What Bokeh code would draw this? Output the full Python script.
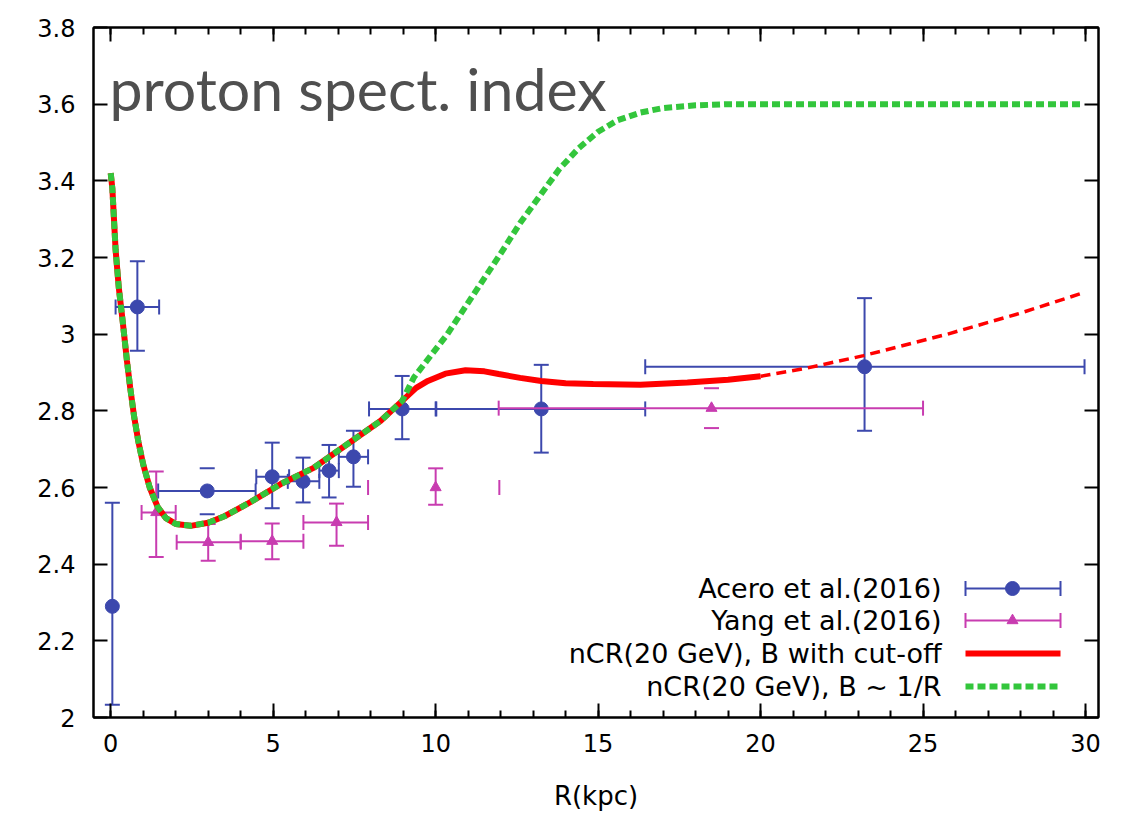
import math
from bokeh.plotting import figure
from bokeh.models import Range1d, FixedTicker, LinearAxis, Label
from bokeh.embed import file_html
from bokeh.resources import INLINE

# ---------------- data ----------------
# Acero et al. (2016)
acero_r = [0.05, 0.82, 2.97, 4.97, 5.92, 6.72, 7.47, 8.97, 13.25, 23.2]
acero_idx = [2.29, 3.071, 2.591, 2.628, 2.616, 2.644, 2.68, 2.805, 2.805, 2.915]
acero_r_lo = [0.05, 0.15, 1.46, 4.48, 5.45, 6.42, 7.02, 7.95, 10.02, 16.45]
acero_r_hi = [0.05, 1.49, 4.46, 5.49, 6.42, 7.02, 7.92, 10.0, 16.45, 29.97]
acero_idx_lo = [2.033, 2.957, 2.53, 2.546, 2.561, 2.574, 2.602, 2.726, 2.691, 2.748]
acero_idx_hi = [2.56, 3.19, 2.65, 2.717, 2.678, 2.711, 2.748, 2.891, 2.92, 3.094]

# Yang et al. (2016)
yang_r = [1.4, 3.0, 4.97, 6.95, 10.0, 18.49]
yang_idx = [2.535, 2.457, 2.46, 2.509, 2.6, 2.807]
yang_r_lo = [0.95, 2.03, 4.0, 5.93, 7.92, 11.94]
yang_r_hi = [2.0, 4.0, 5.93, 7.92, 11.96, 25.0]
yang_idx_lo = [2.419, 2.409, 2.413, 2.448, 2.555, 2.755]
yang_idx_hi = [2.642, 2.505, 2.506, 2.558, 2.65, 2.859]

# model curves: common part (both models coincide)
shared_r = [0.0, 0.05, 0.1, 0.15, 0.25, 0.36, 0.5, 0.6, 0.72, 0.85, 1.0, 1.2, 1.44,
            1.7, 2.0, 2.46, 3.0, 3.5, 4.2, 5.23, 6.26, 7.28, 8.31, 8.97]
shared_idx = [3.42, 3.38, 3.30, 3.22, 3.12, 3.04, 2.93, 2.86, 2.785, 2.72, 2.66, 2.60, 2.55,
              2.52, 2.505, 2.50, 2.508, 2.525, 2.557, 2.609, 2.652, 2.713, 2.774, 2.826]
# nCR(20 GeV), B with cut-off  (solid part, then dashed extrapolation)
cut_r = [9.4, 9.76, 10.3, 10.92, 11.5, 11.94, 12.6, 13.25, 14.0, 14.85, 16.3, 17.75, 19.0, 20.0]
cut_idx = [2.86, 2.878, 2.897, 2.906, 2.903, 2.896, 2.886, 2.878, 2.872, 2.87, 2.868, 2.874, 2.881, 2.89]
cut_tail_r = [20.0, 21.4, 23.17, 25.75, 28.0, 29.9]
cut_tail_idx = [2.89, 2.911, 2.944, 3.0, 3.055, 3.107]
# nCR(20 GeV), B ~ 1/R
inv_r = [9.33, 10.36, 11.38, 12.0, 12.6, 13.2, 13.8, 14.4, 15.0, 15.6, 16.3, 17.0, 18.0, 19.0, 20.0, 25.0, 29.9]
inv_idx = [2.887, 3.0, 3.131, 3.21, 3.29, 3.36, 3.43, 3.485, 3.528, 3.558, 3.578, 3.59, 3.597, 3.6, 3.6, 3.6, 3.6]

# ticks
x_ticks = [0, 5, 10, 15, 20, 25, 30]
x_minor = list(range(0, 31))
x_tick_labels = ["0", "5", "10", "15", "20", "25", "30"]
y_ticks = [2.0, 2.2, 2.4, 2.6, 2.8, 3.0, 3.2, 3.4, 3.6, 3.8]
y_tick_labels = ["2", "2.2", "2.4", "2.6", "2.8", "3", "3.2", "3.4", "3.6", "3.8"]

legend_labels = ["Acero et al.(2016)", "Yang et al.(2016)",
                 "nCR(20 GeV), B with cut-off", "nCR(20 GeV), B ~ 1/R"]
title_text = "proton spect. index"
x_label = "R(kpc)"

# ---------------- layout ----------------
W, H = 1121, 816
FL, FR, FT, FB = 93, 1098, 27, 717
X0, X1 = -0.53, 30.4
Y0, Y1 = 2.0, 3.8

BLUE = "#3c48ad"
MAG = "#c83cb0"
RED = "#ff0000"
GREEN = "#33c63c"


def dx(px):
    return X0 + (px - FL) * (X1 - X0) / (FR - FL)


def dy(py):
    return Y1 - (py - FT) * (Y1 - Y0) / (FB - FT)


p = figure(width=W, height=H, x_range=Range1d(X0, X1), y_range=Range1d(Y0, Y1),
           output_backend="svg", toolbar_location=None,
           min_border_left=FL, min_border_right=W - FR,
           min_border_top=FT, min_border_bottom=H - FB)
p.xgrid.visible = False
p.ygrid.visible = False
p.outline_line_color = "black"
p.outline_line_width = 2
p.background_fill_color = "white"
p.border_fill_color = "white"

xt = FixedTicker(ticks=x_ticks, minor_ticks=x_minor)
yt = FixedTicker(ticks=y_ticks, minor_ticks=[])

p.add_layout(LinearAxis(), "above")
p.add_layout(LinearAxis(), "right")

for ax in p.xaxis:
    ax.ticker = xt
    ax.major_label_overrides = {t: l for t, l in zip(x_ticks, x_tick_labels)}
for ax in p.yaxis:
    ax.ticker = yt
    ax.major_label_overrides = {t: l for t, l in zip(y_ticks, y_tick_labels)}

for ax in p.xaxis + p.yaxis:
    ax.axis_line_width = 2
    ax.axis_line_color = "black"
    ax.major_tick_in = 14
    ax.major_tick_out = 0
    ax.minor_tick_in = 7
    ax.minor_tick_out = 0
    ax.major_tick_line_width = 2
    ax.minor_tick_line_width = 2
    ax.major_label_text_font = "DejaVu Sans"
    ax.major_label_text_font_size = "24px"
    ax.major_label_text_color = "black"

# mirrored axes: ticks only, no labels
for ax in (p.above[0], p.right[0]):
    ax.major_label_text_color = None
    ax.major_label_text_alpha = 0
    ax.major_label_text_font_size = "1px"
    ax.major_label_standoff = 0

bx = p.below[0]
bx.major_label_standoff = 16
bx.axis_label = x_label
bx.axis_label_text_font = "DejaVu Sans"
bx.axis_label_text_font_size = "26px"
bx.axis_label_text_font_style = "normal"
bx.axis_label_text_color = "black"
bx.axis_label_standoff = 26

ly = p.left[0]
ly.major_label_standoff = 18


# ---------------- error bars ----------------
def error_bars(r, v, rlo, rhi, vlo, vhi, color, marker, msize, hide_v=(), hide_h=()):
    vi = [i for i in range(len(r)) if i not in hide_v]
    p.segment(x0=[r[i] for i in vi], y0=[vlo[i] for i in vi],
              x1=[r[i] for i in vi], y1=[vhi[i] for i in vi], line_color=color, line_width=2)
    hi_ = [i for i in range(len(r)) if i not in hide_h and rhi[i] > rlo[i]]
    p.segment(x0=[rlo[i] for i in hi_], y0=[v[i] for i in hi_],
              x1=[rhi[i] for i in hi_], y1=[v[i] for i in hi_], line_color=color, line_width=2)
    p.scatter(x=r + r, y=vlo + vhi, marker="dash", size=15, line_color=color, line_width=2)
    ci = [i for i in range(len(r)) if rhi[i] > rlo[i]]
    p.scatter(x=[rlo[i] for i in ci] + [rhi[i] for i in ci], y=[v[i] for i in ci] * 2,
              marker="dash", angle=math.pi / 2, size=15, line_color=color, line_width=2)
    p.scatter(x=r, y=v, marker=marker, size=msize, fill_color=color, line_color=color)


error_bars(acero_r, acero_idx, acero_r_lo, acero_r_hi, acero_idx_lo, acero_idx_hi,
           BLUE, "circle", 14, hide_v=(2,))
error_bars(yang_r, yang_idx, yang_r_lo, yang_r_hi, yang_idx_lo, yang_idx_hi,
           MAG, "triangle", 11, hide_v=(5,), hide_h=(4,))

# ---------------- curves ----------------
p.line(shared_r + cut_r, shared_idx + cut_idx, line_color=RED, line_width=6)
p.line(cut_tail_r, cut_tail_idx, line_color=RED, line_width=3.5, line_dash="10 6")
p.line(shared_r + inv_r, shared_idx + inv_idx, line_color=GREEN, line_width=6, line_dash="8 4")

# ---------------- legend (drawn by hand: text on the left, sample on the right) ----------------
rows_py = [588, 620, 653, 686]
text_px = 941
s0, s1, sc = 965, 1060, 1012
for lab, py in zip(legend_labels, rows_py):
    p.add_layout(Label(x=dx(text_px), y=dy(py), text=lab, text_align="right",
                       text_baseline="middle", text_font="DejaVu Sans",
                       text_font_size="27px", text_color="black"))

for k, (color, marker, msize) in enumerate([(BLUE, "circle", 14), (MAG, "triangle", 11)]):
    yy = dy(rows_py[k])
    p.segment(x0=[dx(s0)], y0=[yy], x1=[dx(s1)], y1=[yy], line_color=color, line_width=2)
    p.scatter(x=[dx(s0), dx(s1)], y=[yy, yy], marker="dash", angle=math.pi / 2, size=15,
              line_color=color, line_width=2)
    p.scatter(x=[dx(sc)], y=[yy], marker=marker, size=msize, fill_color=color, line_color=color)

p.line([dx(s0), dx(s1)], [dy(rows_py[2])] * 2, line_color=RED, line_width=6)
p.line([dx(s0), dx(s1)], [dy(rows_py[3])] * 2, line_color=GREEN, line_width=6, line_dash="8 4")

# ---------------- big title text ----------------
p.add_layout(Label(x=dx(109), y=dy(88), text=title_text, text_align="left",
                   text_baseline="alphabetic", text_font="Lato", text_font_size="59px",
                   text_color="#4f4f4f"))

open("out.html", "w").write(file_html(p, INLINE))
